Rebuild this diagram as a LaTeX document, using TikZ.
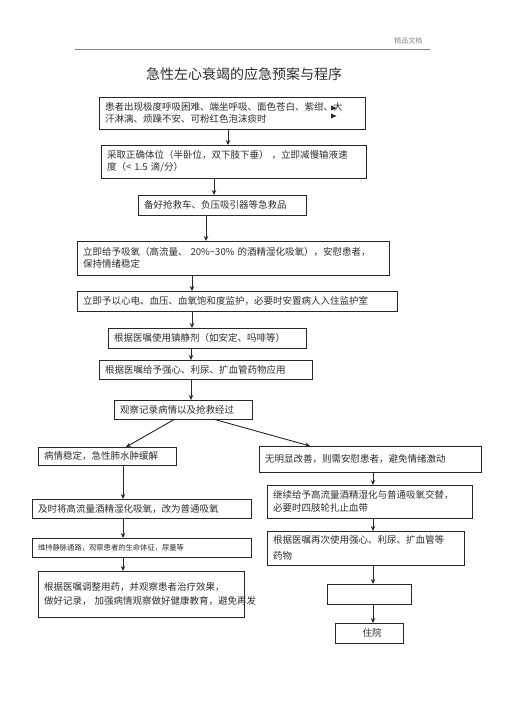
\documentclass[tikz,border=0pt]{standalone}
\usepackage{fontspec}
\setmainfont{Noto Sans CJK SC}
\usetikzlibrary{arrows.meta}
\usepackage{xcolor}
\definecolor{hfInk}{RGB}{45, 45, 45}
\definecolor{hfLine}{RGB}{40, 40, 40}
\definecolor{hfGray}{RGB}{130, 130, 130}

\begin{document}
\begin{tikzpicture}[x=1pt, y=-1pt,
      every node/.style={text=hfInk, font=\fontsize{9.5}{12.5}\selectfont},
      box/.style={draw=hfLine, line width=0.9pt, inner xsep=6pt, inner ysep=0pt,
                  outer sep=0pt, align=left},
      arr/.style={-{Stealth[length=5pt, width=4.5pt]}, line width=0.9pt, draw=hfLine}]
    \useasboundingbox (0,0) rectangle (505,714);
    % page header and title
    \node[anchor=east, text=hfGray, font=\fontsize{7}{8}\selectfont] (hdr) at (426,41) {精品文档};
    \draw[hfGray, line width=0.6pt] (75,49) -- (430,49);
    \node[font=\fontsize{14}{16}\selectfont] (title) at (244,74) {急性左心衰竭的应急预案与程序};
    % main column
    \node[box, minimum width=266, minimum height=32, text width=254] (onset) at (232,113)
      {患者出现极度呼吸困难、端坐呼吸、面色苍白、紫绀、大\\汗淋漓、烦躁不安、可粉红色泡沫痰时};
    \fill[hfLine] (331,105.5) -- (336.5,108) -- (331,110.5) -- cycle;
    \fill[hfLine] (331,113.5) -- (336.5,116) -- (331,118.5) -- cycle;
    \node[box, minimum width=265, minimum height=33, text width=253] (posture) at (233.5,161.5)
      {采取正确体位（半卧位，双下肢下垂） ，立即减慢输液速\\度（< 1.5 滴/分）};
    \node[box, minimum width=168, minimum height=20, text width=156] (kit)     at (222,205)
      {备好抢救车、负压吸引器等急救品};
    \node[box, minimum width=312, minimum height=34, text width=300] (oxygen)  at (233,258)
      {立即给予吸氧（高流量、 20\%{\textasciitilde}30\% 的酒精湿化吸氧），安慰患者，\\保持情绪稳定};
    \node[box, minimum width=320, minimum height=20, text width=308] (monitor) at (237,301)
      {立即予以心电、血压、血氧饱和度监护，必要时安置病人入住监护室};
    \node[box, minimum width=198, minimum height=20, text width=186] (sedate)  at (207,338)
      {根据医嘱使用镇静剂（如安定、吗啡等）};
    \node[box, minimum width=213, minimum height=19, text width=201] (drugs)   at (205.5,369.5)
      {根据医嘱给予强心、利尿、扩血管药物应用};
    \node[box, minimum width=138, minimum height=19, text width=126] (record)  at (183,409.5)
      {观察记录病情以及抢救经过};
    % left branch
    \node[box, minimum width=138, minimum height=18, text width=126] (stable)  at (107,456)
      {病情稳定，急性肺水肿缓解};
    \node[box, minimum width=219, minimum height=19, text width=207] (lowflow) at (141.5,508.5)
      {及时将高流量酒精湿化吸氧，改为普通吸氧};
    \node[box, minimum width=219, minimum height=19, text width=207,
          font=\fontsize{7.3}{9}\selectfont] (vein)    at (141.5,547.5)
      {维持静脉通路，观察患者的生命体征，尿量等};
    \node[box, minimum width=206, minimum height=46, text width=194,
          font=\fontsize{9.5}{14}\selectfont] (adjust)  at (141,594)
      {根据医嘱调整用药，并观察患者治疗效果，\\\mbox{做好记录， 加强病情观察做好健康教育，避免再发}\\[3pt]};
    % right branch
    \node[box, minimum width=222, minimum height=26, text width=210] (worse)   at (370,459)
      {无明显改善，则需安慰患者，避免情绪激动\\[5pt]};
    \node[box, minimum width=205, minimum height=33, text width=193] (alter)   at (369.5,501.5)
      {继续给予高流量酒精湿化与普通吸氧交替，\\必要时四肢轮扎止血带};
    \node[box, minimum width=197, minimum height=34, text width=185,
          font=\fontsize{9.5}{16.5}\selectfont] (again)   at (365.5,548)
      {根据医嘱再次使用强心、利尿、扩血管等\\药物};
    \node[box, minimum width=84, minimum height=20] (blank)   at (369,594) {};
    \node[box, minimum width=68, minimum height=20, align=center] (ward) at (369,633) {\hspace*{6pt}住院};
    \node[font=\fontsize{5}{6}\selectfont, text=hfGray] (dot) at (77,669) {.};
    % connectors
    \draw[arr] (onset.south   -| 228,0) -- (posture.north -| 228,0);
    \draw[arr] (posture.south -| 214,0) -- (kit.north     -| 214,0);
    \draw[arr] (kit.south     -| 206,0) -- (oxygen.north  -| 206,0);
    \draw[arr] (oxygen.south  -| 192,0) -- (monitor.north -| 192,0);
    \draw[arr] (monitor.south -| 192,0) -- (sedate.north  -| 192,0);
    \draw[arr] (sedate.south  -| 191,0) -- (drugs.north   -| 191,0);
    \draw[arr] (drugs.south   -| 191,0) -- (record.north  -| 191,0);
    \draw[arr] ([xshift=-8]record.south) -- ([xshift=19]stable.north);
    \draw[arr] ([xshift=30]record.south) -- ([xshift=-60]worse.north);
    \draw[arr] (stable.south  -| 123,0) -- (lowflow.north -| 123,0);
    \draw[arr] (lowflow.south -| 123,0) -- (vein.north    -| 123,0);
    \draw[arr] (vein.south    -| 123,0) -- (adjust.north  -| 123,0);
    \draw[arr] (worse.south   -| 373,0) -- (alter.north   -| 373,0);
    \draw[arr] (alter.south   -| 373,0) -- (again.north   -| 373,0);
    \draw[arr] (again.south   -| 373,0) -- (blank.north   -| 373,0);
    \draw[arr] (blank.south   -| 373,0) -- (ward.north    -| 373,0);
  \end{tikzpicture}
\end{document}
